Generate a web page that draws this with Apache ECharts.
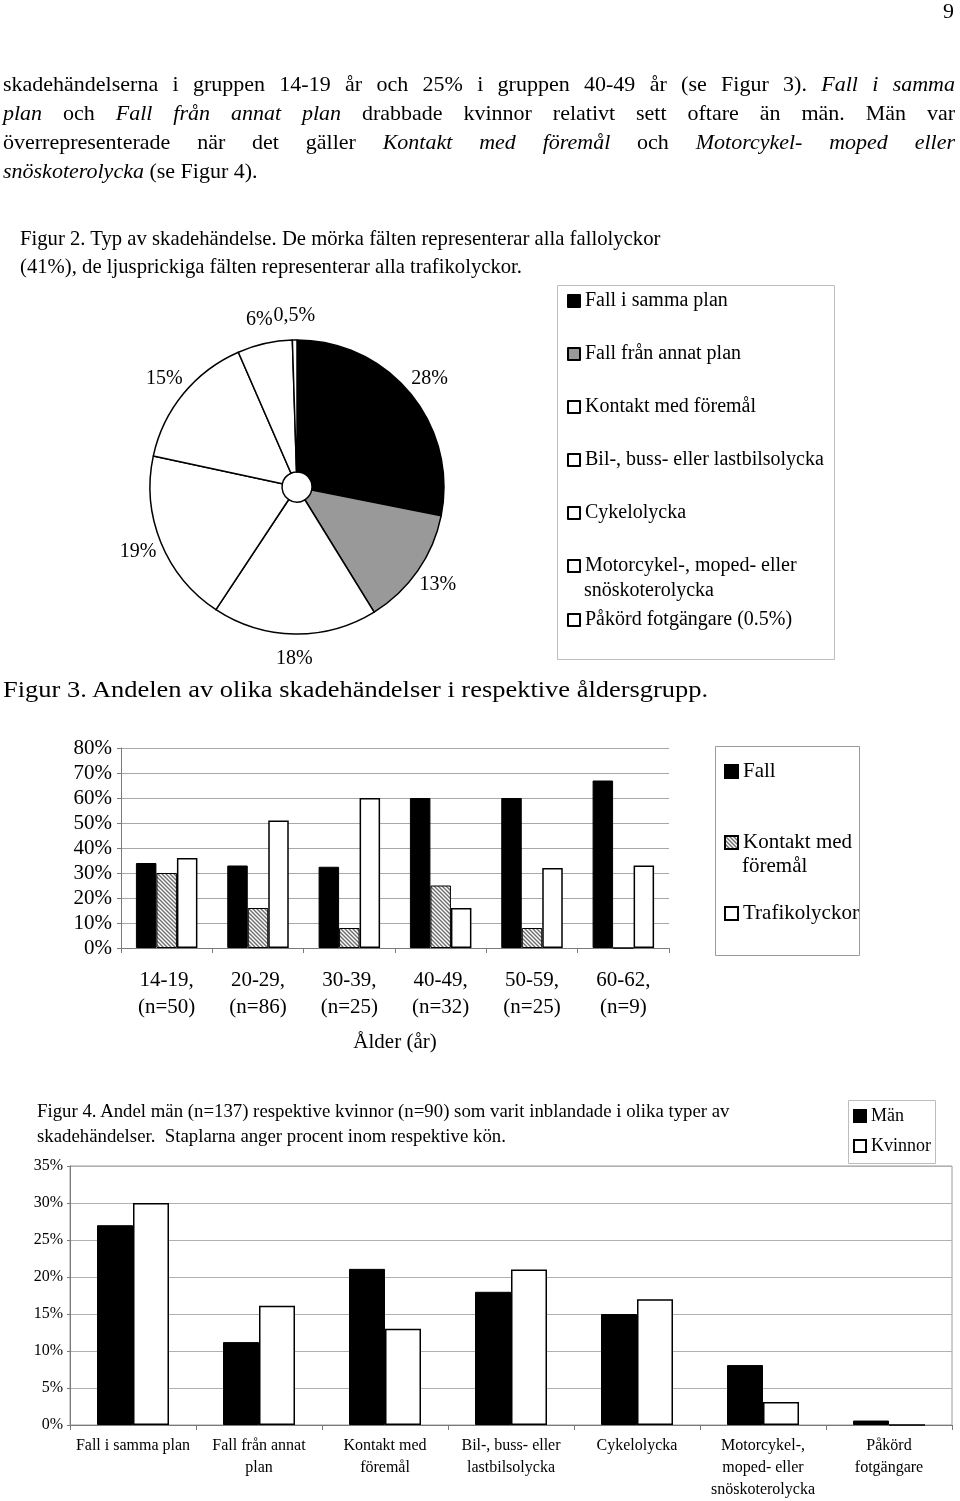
<!DOCTYPE html>
<html><head><meta charset="utf-8">
<script src="https://cdn.jsdelivr.net/npm/echarts@6/dist/echarts.min.js"></script>
<style>
html,body{margin:0;padding:0;background:#fff;}
body{width:960px;height:1501px;position:relative;overflow:hidden;font-family:"Liberation Serif","Times New Roman",serif;color:#000;}
.chart{position:absolute;left:0;top:0;width:960px;height:1501px;}
.t{position:absolute;white-space:nowrap;z-index:5;transform-origin:0 0;}
.j{position:absolute;left:3px;width:952px;font-size:22px;line-height:29px;text-align:justify;text-align-last:justify;z-index:5;}
</style></head>
<body>
<div class="t" style="left:943px;top:0px;font-size:22px;line-height:22px;">9</div>
<div class="j" style="top:69px;">skadehändelserna i gruppen 14-19 år och 25% i gruppen 40-49 år (se Figur 3). <i>Fall i samma</i></div>
<div class="j" style="top:98px;"><i>plan</i> och <i>Fall från annat plan</i> drabbade kvinnor relativt sett oftare än män. Män var</div>
<div class="j" style="top:127px;">överrepresenterade när det gäller <i>Kontakt med föremål</i> och <i>Motorcykel- moped eller</i></div>
<div class="j" style="top:156px;text-align-last:left;"><i>snöskoterolycka</i> (se Figur 4).</div>

<div class="t" style="left:20px;top:224px;font-size:20.7px;line-height:28px;">Figur 2. Typ av skadehändelse. De mörka fälten representerar alla fallolyckor<br>(41%), de ljusprickiga fälten representerar alla trafikolyckor.</div>
<div class="t" style="left:3px;top:677px;font-size:23px;line-height:26px;transform:scaleX(1.15);">Figur 3. Andelen av olika skadehändelser i respektive åldersgrupp.</div>
<div class="t" style="left:37px;top:1098px;font-size:18.8px;line-height:25px;">Figur 4. Andel män (n=137) respektive kvinnor (n=90) som varit inblandade i olika typer av<br>skadehändelser.&nbsp; Staplarna anger procent inom respektive kön.</div>

<div id="c1" class="chart"></div>
<div id="c2" class="chart"></div>
<div id="c3" class="chart"></div>
<script>
// ---------- DATA ----------
// Figur 2 (pie)
const pieNames = ['Fall i samma plan', 'Fall från annat plan', 'Kontakt med föremål', 'Bil-, buss- eller lastbilsolycka', 'Cykelolycka', 'Motorcykel-, moped- eller snöskoterolycka', 'Påkörd fotgängare (0.5%)'];
const pieValues = [28, 13, 18, 19, 15, 6, 0.5];
const pieLabels = ['28%', '13%', '18%', '19%', '15%', '6%', '0,5%'];

// Figur 3 (age groups)
const ageCategories = ['14-19,\n(n=50)', '20-29,\n(n=86)', '30-39,\n(n=25)', '40-49,\n(n=32)', '50-59,\n(n=25)', '60-62,\n(n=9)'];
const fallValues = [34, 33, 32.5, 60, 60, 67];
const kontaktValues = [30, 16, 8, 25, 8, 0];
const trafikValues = [36, 51, 60, 16, 32, 33];
const ageTicks = [0, 10, 20, 30, 40, 50, 60, 70, 80];

// Figur 4 (men / women)
const typeCategories = ['Fall i samma plan', 'Fall från annat\nplan', 'Kontakt med\nföremål', 'Bil-, buss- eller\nlastbilsolycka', 'Cykelolycka', 'Motorcykel-,\nmoped- eller\nsnöskoterolycka', 'Påkörd\nfotgängare'];
const manValues = [27, 11.2, 21.1, 18, 15, 8.1, 0.6];
const kvinnorValues = [30, 16.1, 13, 21, 17, 3.1, 0];
const genderTicks = [0, 5, 10, 15, 20, 25, 30, 35];

// ---------- STYLE ----------
const FONT = '"Liberation Serif", "Times New Roman", serif';
const pieFill = ['#000000', '#999999', '#ffffff', '#ffffff', '#ffffff', '#ffffff', '#ffffff'];

function hatch() {
  const c = document.createElement('canvas');
  c.width = 8; c.height = 8;
  const g = c.getContext('2d');
  g.fillStyle = '#ffffff'; g.fillRect(0, 0, 8, 8);
  g.strokeStyle = '#6e6e6e'; g.lineWidth = 1.4;
  for (let k = -8; k <= 8; k += 4) {
    g.beginPath(); g.moveTo(-1, k - 1); g.lineTo(9, k + 9); g.stroke();
  }
  return c;
}
const hatchPattern = { image: hatch(), repeat: 'repeat' };

// ---------- FIGUR 2 ----------
const c1 = echarts.init(document.getElementById('c1'), null, { renderer: 'canvas' });
const motorName = pieNames[5];
c1.setOption({
  animation: false,
  textStyle: { fontFamily: FONT },
  legend: [{
    orient: 'vertical', left: 567, top: 291, itemGap: 33, itemWidth: 12, itemHeight: 12, padding: 0,
    icon: 'rect', selectedMode: false,
    data: pieNames.slice(0, 6),
    formatter: n => n === motorName ? 'Motorcykel-, moped- eller' : n,
    textStyle: { fontFamily: FONT, fontSize: 20, lineHeight: 20, color: '#000' }
  }, {
    orient: 'vertical', left: 567, top: 610, itemWidth: 12, itemHeight: 12, padding: 0,
    icon: 'rect', selectedMode: false,
    data: pieNames.slice(6),
    textStyle: { fontFamily: FONT, fontSize: 20, lineHeight: 20, color: '#000' }
  }],
  graphic: [
    { type: 'rect', shape: { x: 557.5, y: 285.5, width: 277, height: 374 }, style: { fill: 'none', stroke: '#bdbdbd', lineWidth: 1 }, silent: true },
    { type: 'text', x: 584, y: 591, style: { text: 'snöskoterolycka', font: '20px ' + FONT, fill: '#000', verticalAlign: 'middle' }, silent: true }
  ],
  series: [{
    type: 'pie', center: [297, 487], radius: [15, 147], startAngle: 90, clockwise: true,
    silent: true, avoidLabelOverlap: false,
    label: { show: false }, labelLine: { show: false },
    emphasis: { disabled: true },
    itemStyle: { borderColor: '#000', borderWidth: 1.5 },
    data: pieNames.map((n, i) => ({ name: n, value: pieValues[i], itemStyle: { color: pieFill[i] } }))
  }, {
    type: 'pie', center: [297, 487], radius: [147, 190], startAngle: 90, clockwise: true,
    silent: true, avoidLabelOverlap: false,
    itemStyle: { color: 'rgba(0,0,0,0)', borderWidth: 0 },
    emphasis: { disabled: true },
    label: { show: true, position: 'inside', formatter: p => pieLabels[p.dataIndex], fontFamily: FONT, fontSize: 20, color: '#000', textBorderWidth: 0 },
    labelLine: { show: false },
    data: pieValues.map((v, i) => ({ name: 'lbl' + i, value: v }))
  }]
});

// ---------- FIGUR 3 ----------
const c2 = echarts.init(document.getElementById('c2'), null, { renderer: 'canvas' });
const kontaktName = 'Kontakt med föremål';
c2.setOption({
  animation: false,
  textStyle: { fontFamily: FONT },
  grid: { left: 121, right: 291, top: 748, bottom: 553, containLabel: false },
  legend: {
    orient: 'vertical', left: 724, top: 761, itemGap: 50, itemWidth: 13, itemHeight: 13, padding: 0,
    icon: 'rect', selectedMode: false,
    data: ['Fall', kontaktName, 'Trafikolyckor'],
    formatter: n => n === kontaktName ? 'Kontakt med' : n,
    textStyle: { fontFamily: FONT, fontSize: 21, lineHeight: 20, color: '#000' }
  },
  graphic: [
    { type: 'rect', shape: { x: 715.5, y: 746.5, width: 144, height: 209 }, style: { fill: 'none', stroke: '#9a9a9a', lineWidth: 1 }, silent: true },
    { type: 'text', x: 742, y: 866, style: { text: 'föremål', font: '21px ' + FONT, fill: '#000', verticalAlign: 'middle' }, silent: true }
  ],
  xAxis: {
    type: 'category', data: ageCategories,
    axisLine: { lineStyle: { color: '#7a7a7a', width: 1 } },
    axisTick: { show: true, length: 5, alignWithLabel: false, lineStyle: { color: '#7a7a7a' } },
    axisLabel: { interval: 0, fontFamily: FONT, fontSize: 21, lineHeight: 27, color: '#000', margin: 19 },
    name: 'Ålder (år)', nameLocation: 'middle', nameGap: 84,
    nameTextStyle: { fontFamily: FONT, fontSize: 21, color: '#000' }
  },
  yAxis: {
    type: 'value', min: ageTicks[0], max: ageTicks[ageTicks.length - 1], interval: ageTicks[1] - ageTicks[0],
    axisLine: { show: true, lineStyle: { color: '#7a7a7a', width: 1 } },
    axisTick: { show: true, length: 4, lineStyle: { color: '#7a7a7a' } },
    splitLine: { show: true, lineStyle: { color: '#a8a8a8', width: 1.2 } },
    axisLabel: { formatter: '{value}%', fontFamily: FONT, fontSize: 21, color: '#000', margin: 9, padding: [7, 0, 0, 0] }
  },
  series: [
    { name: 'Fall', type: 'bar', data: fallValues, barWidth: 20.5, barGap: '0%', silent: true,
      itemStyle: { color: '#000', borderColor: '#000', borderWidth: 1 } },
    { name: kontaktName, type: 'bar', data: kontaktValues, barWidth: 20.5, barGap: '0%', silent: true,
      itemStyle: { color: hatchPattern, borderColor: '#000', borderWidth: 1 } },
    { name: 'Trafikolyckor', type: 'bar', data: trafikValues, barWidth: 20.5, barGap: '0%', silent: true,
      itemStyle: { color: '#fff', borderColor: '#000', borderWidth: 1.5 } }
  ]
});

// ---------- FIGUR 4 ----------
const c3 = echarts.init(document.getElementById('c3'), null, { renderer: 'canvas' });
c3.setOption({
  animation: false,
  textStyle: { fontFamily: FONT },
  grid: { left: 70, right: 8, top: 1166, bottom: 74, show: true, borderColor: '#9a9a9a', borderWidth: 1, backgroundColor: 'transparent' },
  legend: {
    orient: 'vertical', left: 853, top: 1106, itemGap: 10, itemWidth: 12, itemHeight: 12, padding: 0,
    icon: 'rect', selectedMode: false,
    data: ['Män', 'Kvinnor'],
    textStyle: { fontFamily: FONT, fontSize: 18, lineHeight: 20, color: '#000' }
  },
  graphic: [
    { type: 'rect', shape: { x: 848.5, y: 1100.5, width: 87, height: 63 }, style: { fill: 'none', stroke: '#bdbdbd', lineWidth: 1 }, silent: true }
  ],
  xAxis: {
    type: 'category', data: typeCategories,
    axisLine: { lineStyle: { color: '#7a7a7a', width: 1 } },
    axisTick: { show: true, length: 5, alignWithLabel: false, lineStyle: { color: '#7a7a7a' } },
    axisLabel: { interval: 0, fontFamily: FONT, fontSize: 16, lineHeight: 22, color: '#000', margin: 10 }
  },
  yAxis: {
    type: 'value', min: genderTicks[0], max: genderTicks[genderTicks.length - 1], interval: genderTicks[1] - genderTicks[0],
    axisLine: { show: true, lineStyle: { color: '#7a7a7a', width: 1 } },
    axisTick: { show: true, length: 3, lineStyle: { color: '#7a7a7a' } },
    splitLine: { show: true, lineStyle: { color: '#b0b0b0', width: 1 } },
    axisLabel: { formatter: '{value}%', fontFamily: FONT, fontSize: 16, color: '#000', margin: 7 }
  },
  series: [
    { name: 'Män', type: 'bar', data: manValues, barWidth: 36, barGap: '0%', silent: true,
      itemStyle: { color: '#000', borderColor: '#000', borderWidth: 1 } },
    { name: 'Kvinnor', type: 'bar', data: kvinnorValues, barWidth: 36, barGap: '0%', silent: true,
      itemStyle: { color: '#fff', borderColor: '#000', borderWidth: 1.5 } }
  ]
});
</script>
</body></html>
